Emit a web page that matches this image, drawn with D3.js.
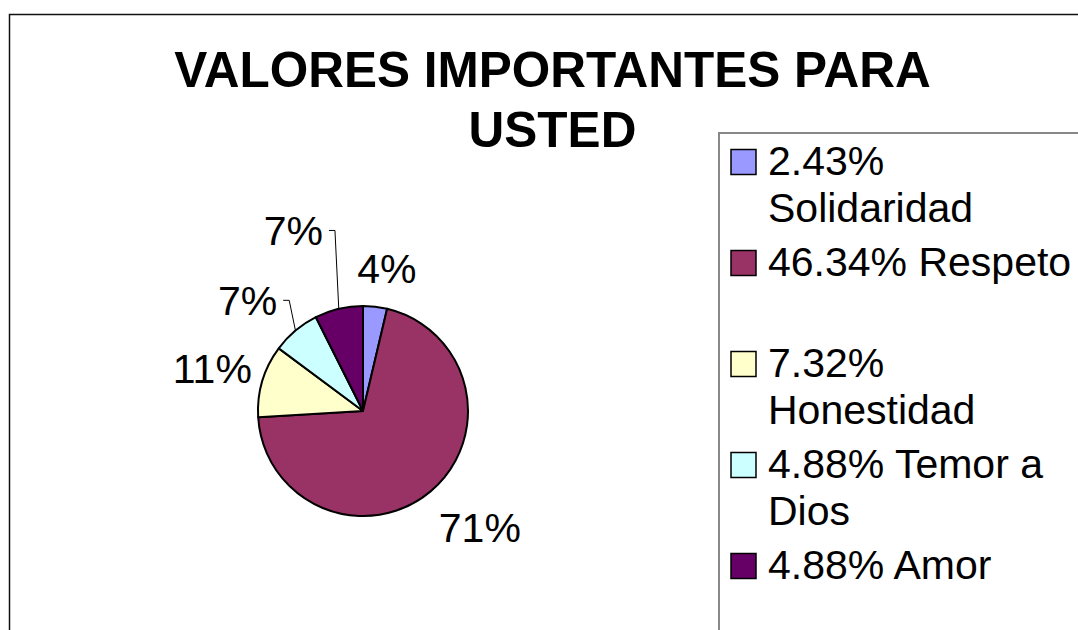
<!DOCTYPE html>
<html>
<head>
<meta charset="utf-8">
<script src="https://cdn.jsdelivr.net/npm/d3@7"></script>
<style>
  html, body { margin: 0; padding: 0; background: #fff; overflow: hidden; }
  svg { display: block; }
  text { font-family: "Liberation Sans", Arial, Helvetica, sans-serif; fill: #000; }
</style>
</head>
<body>
<svg id="chart" width="1078" height="630"></svg>
<script>
// ---- data ----
const title = ["VALORES IMPORTANTES PARA", "USTED"];
const categories = ["Solidaridad", "Respeto", "Honestidad", "Temor a Dios", "Amor"];
const values = [2.43, 46.34, 7.32, 4.88, 4.88];
const pctLabels = ["4%", "71%", "11%", "7%", "7%"];
const legendLabels = ["2.43% Solidaridad", "46.34% Respeto", "7.32% Honestidad", "4.88% Temor a Dios", "4.88% Amor"];
const colors = ["#9999FF", "#993366", "#FFFFCC", "#CCFFFF", "#660066"];

// ---- layout ----
const W = 1078, H = 630;
const cx = 363, cy = 411, R = 105;
const labelGap = 20, labelCap = 28.6;
const labelNudge = [[6, -4], [10, 10], [7, -2], [-16, -4], [-34, -45]];
const hasLeader = [false, false, false, true, true];

const svg = d3.select("#chart");

// outer chart frame
svg.append("rect")
  .attr("x", 9.5).attr("y", 14.5)
  .attr("width", W + 50).attr("height", H + 50)
  .attr("fill", "#fff").attr("stroke", "#111").attr("stroke-width", 1.5);

// title
svg.append("g").selectAll("text")
  .data(title).join("text")
  .attr("x", 552.5)
  .attr("y", (d, i) => 86.7 + i * 60)
  .attr("text-anchor", "middle")
  .attr("font-size", 49.5).attr("font-weight", "bold")
  .text(d => d);

// pie
const color = d3.scaleOrdinal().domain(categories).range(colors);
const pie = d3.pie().sort(null).value(d => d.v);
const data = categories.map((c, i) => ({ c, v: values[i], lab: pctLabels[i], i }));
const arcs = pie(data);
const arc = d3.arc().innerRadius(0).outerRadius(R);

const g = svg.append("g").attr("transform", `translate(${cx},${cy})`);
g.selectAll("path").data(arcs).join("path")
  .attr("d", arc)
  .attr("fill", d => color(d.data.c))
  .attr("stroke", "#000").attr("stroke-width", 2).attr("stroke-linejoin", "round");

// data labels
const lg = g.append("g");
arcs.forEach((a, i) => {
  const mid = (a.startAngle + a.endAngle) / 2;
  const ux = Math.sin(mid), uy = -Math.cos(mid);
  const t = lg.append("text")
    .attr("font-size", 41)
    .attr("text-anchor", "middle")
    .text(a.data.lab);
  const w = t.node().getComputedTextLength();
  const bx = (R + labelGap) * ux + ux * w / 2 + labelNudge[i][0];
  const by = (R + labelGap) * uy + uy * labelCap / 2 + labelNudge[i][1];
  t.attr("x", bx).attr("y", by + labelCap / 2);
  if (hasLeader[i]) {
    const sx = bx + w / 2 + 6, sy = by;
    const pts = [[sx, sy], [sx + 6, sy], [R * ux, R * uy]];
    lg.append("path")
      .attr("d", d3.line()(pts))
      .attr("fill", "none").attr("stroke", "#000").attr("stroke-width", 1);
  }
});

// legend
const legX = 719, legY = 133;
svg.append("rect")
  .attr("x", legX).attr("y", legY)
  .attr("width", W).attr("height", H)
  .attr("fill", "#fff").attr("stroke", "#888").attr("stroke-width", 2);

const legStep = 101, lineH = 46.7, firstBase = 175, textX = 768, maxW = 305;
const leg = svg.append("g");
legendLabels.forEach((lab, i) => {
  const base = firstBase + i * legStep;
  leg.append("rect")
    .attr("x", 731).attr("y", base - 25.5)
    .attr("width", 25).attr("height", 25)
    .attr("fill", colors[i]).attr("stroke", "#000").attr("stroke-width", 1.5);
  const t = leg.append("text").attr("font-size", 41).attr("x", textX).attr("y", base);
  // word wrap
  const words = lab.split(" ");
  let line = [], ln = 0;
  let ts = t.append("tspan").attr("x", textX).attr("y", base);
  words.forEach(wd => {
    line.push(wd);
    ts.text(line.join(" "));
    if (ts.node().getComputedTextLength() > maxW && line.length > 1) {
      line.pop();
      ts.text(line.join(" "));
      line = [wd];
      ln++;
      ts = t.append("tspan").attr("x", textX).attr("y", base + ln * lineH).text(wd);
    }
  });
});
</script>
</body>
</html>
